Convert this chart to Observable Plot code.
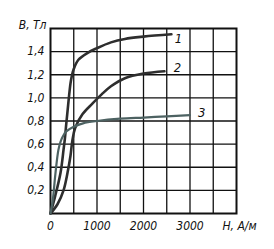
<!DOCTYPE html>
<html><head><meta charset="utf-8">
<script src="https://cdn.jsdelivr.net/npm/d3@7"></script>
<script src="https://cdn.jsdelivr.net/npm/@observablehq/plot@0.6"></script>
<style>
html,body{margin:0;padding:0;background:#fff;}
svg text{font-family:"DejaVu Sans Condensed","Liberation Sans",sans-serif;font-style:italic;}
</style>
</head><body>
<div id="chart"></div>
<script>
const curve1H = [0,100,215,280,310,340,370,400,440,500,600,800,1000,1300,1600,2000,2600];
const curve1B = [0,0.15,0.35,0.55,0.65,0.78,0.9,1.02,1.15,1.25,1.33,1.39,1.43,1.48,1.51,1.53,1.55];
const curve2H = [0,150,280,365,430,470,530,690,900,1100,1300,1600,2000,2450];
const curve2B = [0,0.08,0.2,0.35,0.5,0.63,0.74,0.86,0.95,1.03,1.1,1.17,1.21,1.23];
const curve3H = [0,50,107,170,215,270,340,500,700,1000,1500,2000,2500,3000];
const curve3B = [0,0.12,0.35,0.55,0.62,0.67,0.71,0.75,0.78,0.8,0.82,0.83,0.84,0.85];
const curveNames = ["1","2","3"];
const curveLabelH = [2750,2730,3250];
const curveLabelB = [1.515,1.26,0.87];
const xGrid = [500,1000,1500,2000,2500,3000,3500];
const yGrid = [0.2,0.4,0.6,0.8,1.0,1.2,1.4];
const xTicks = [0,1000,2000,3000];
const yTicks = [0.2,0.4,0.6,0.8,1.0,1.2,1.4];
const xTitle = "H, А/м";
const yTitle = "B, Тл";

const toPts = (H,B,name)=>H.map((h,i)=>({H:h,B:B[i],name}));
const pts = [...toPts(curve1H,curve1B,"1"),...toPts(curve2H,curve2B,"2"),...toPts(curve3H,curve3B,"3")];
const labels = curveNames.map((n,i)=>({name:n,H:curveLabelH[i],B:curveLabelB[i]}));
const fmt = v => v.toFixed(1).replace(".", ",");

const plot = Plot.plot({
  width: 274, height: 249,
  marginLeft: 50, marginRight: 38, marginTop: 28, marginBottom: 36,
  x: {domain:[0,4000], axis:null},
  y: {domain:[0,1.6], axis:null},
  style: {background:"#fff"},
  marks: [
    Plot.ruleX(xGrid, {stroke:"#111", strokeWidth:1.3}),
    Plot.ruleY(yGrid, {stroke:"#111", strokeWidth:1.3}),
    Plot.frame({stroke:"#111", strokeWidth:2}),
    Plot.line(pts.filter(d=>d.name!=="3"), {x:"H", y:"B", z:"name", stroke:"#2e2e2e", strokeWidth:2.6, curve:"catmull-rom"}),
    Plot.line(pts.filter(d=>d.name==="3"), {x:"H", y:"B", stroke:"#4d6262", strokeWidth:2.2, curve:"catmull-rom"}),
    Plot.text(yTicks, {x:0, y:d=>d, text:fmt, textAnchor:"end", dx:-6, fontSize:12, fill:"#111"}),
    Plot.text(xTicks, {x:d=>d, y:0, text:d=>String(d), dy:13, fontSize:12, fill:"#111"}),
    Plot.text([xTitle], {x:4000, y:0, text:d=>d, dy:13, dx:3, fontSize:12, fill:"#111"}),
    Plot.text([yTitle], {x:0, y:1.6, text:d=>d, textAnchor:"end", dx:-4, dy:-3, fontSize:12, fill:"#111"}),
    Plot.text(labels, {x:"H", y:"B", text:"name", fontSize:13, fill:"#111"})
  ]
});
document.getElementById("chart").appendChild(plot);
</script>
</body></html>
